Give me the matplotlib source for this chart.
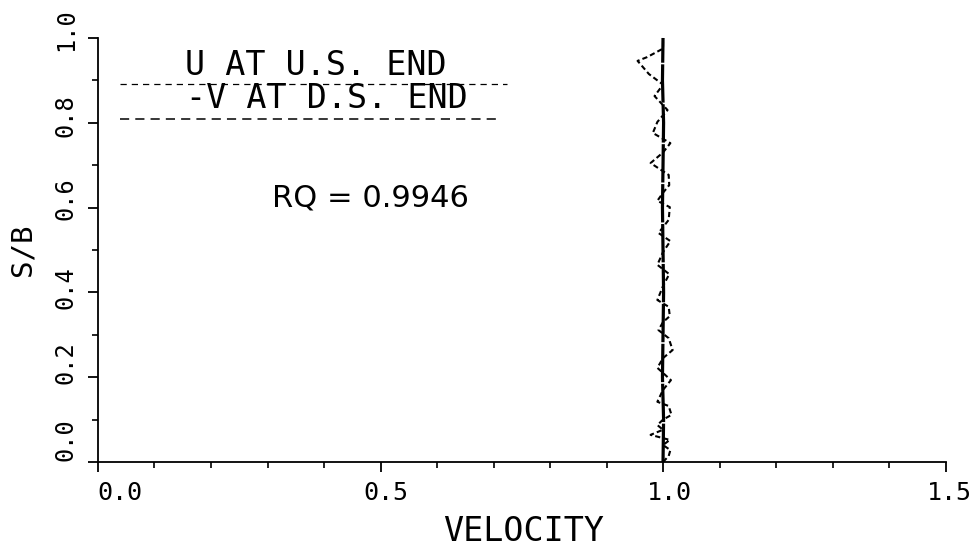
import matplotlib
matplotlib.use('Agg')
import matplotlib.pyplot as plt
from matplotlib.lines import Line2D
from matplotlib.ticker import MultipleLocator

# S/B stations along the section
s_us = [0.0, 0.1, 0.2, 0.3, 0.4, 0.5, 0.6, 0.7, 0.8, 0.9, 1.0]
u_us = [1.000, 1.001, 0.999, 1.000, 1.001, 1.000, 0.999, 1.000, 1.001, 0.999, 1.000]

s_ds = [0.000, 0.014, 0.028, 0.040, 0.052, 0.064, 0.076, 0.087, 0.100, 0.111,
        0.132, 0.142, 0.170, 0.193, 0.222, 0.245, 0.264, 0.292, 0.311, 0.330,
        0.344, 0.366, 0.382, 0.415, 0.443, 0.465, 0.495, 0.521, 0.540, 0.571,
        0.601, 0.616, 0.635, 0.653, 0.677, 0.705, 0.730, 0.752, 0.776, 0.802,
        0.830, 0.863, 0.890, 0.915, 0.946, 0.955, 0.975, 1.000]
v_ds = [1.000, 1.010, 1.013, 1.000, 1.012, 0.978, 1.000, 0.990, 1.000, 1.015,
        1.010, 0.990, 1.000, 1.014, 0.990, 1.000, 1.017, 1.010, 0.992, 1.000,
        1.012, 1.010, 0.990, 1.000, 1.011, 0.990, 1.000, 1.013, 0.992, 1.010,
        1.012, 0.990, 1.000, 1.011, 1.010, 0.978, 1.000, 1.013, 0.982, 0.990,
        1.008, 0.985, 1.000, 0.975, 0.955, 0.972, 1.000, 1.000]

x_ticks = [0.0, 0.5, 1.0, 1.5]
y_ticks = [0.0, 0.2, 0.4, 0.6, 0.8, 1.0]
rq = 0.9946

mono = 'DejaVu Sans Mono'

fig = plt.figure(figsize=(9.77, 5.53), dpi=100)
ax = fig.add_axes([0.1003, 0.1646, 0.8675, 0.7667])

ax.plot(u_us, s_us, color='black', lw=2.3, linestyle=(0, (12, 0.5)), clip_on=False)
ax.plot(v_ds, s_ds, color='black', lw=1.5, linestyle=(0, (2.5, 1.5)), clip_on=False)

ax.set_xlim(0, 1.5)
ax.set_ylim(0, 1)
for side in ['top', 'right']:
    ax.spines[side].set_visible(False)
for side in ['left', 'bottom']:
    ax.spines[side].set_linewidth(1.3)

ax.xaxis.set_major_locator(MultipleLocator(0.5))
ax.xaxis.set_minor_locator(MultipleLocator(0.1))
ax.yaxis.set_major_locator(MultipleLocator(0.2))
ax.yaxis.set_minor_locator(MultipleLocator(0.1))
ax.tick_params(which='major', length=7.5, width=1.3, direction='out',
               labelbottom=False, labelleft=False)
ax.tick_params(which='minor', length=4.5, width=1.2, direction='out')

# tick labels, nudged the way the plotter left them (pixel offsets)
x_dx = [22, 5, 6, 4]
for v, dx in zip(x_ticks, x_dx):
    ax.annotate(f'{v:.1f}', xy=(v, 0), xycoords=('data', 'axes fraction'),
                xytext=(dx * 0.72, -31 * 0.72), textcoords='offset points',
                ha='center', va='center', fontsize=18, family=mono,
                annotation_clip=False)
y_dy = [22, 15, 5, 9, 7, 8]
for v, dy in zip(y_ticks, y_dy):
    ax.annotate(f'{v:.1f}', xy=(0, v), xycoords=('axes fraction', 'data'),
                xytext=(-32 * 0.72, dy * 0.72), textcoords='offset points',
                ha='center', va='center', rotation=90, fontsize=17,
                family=mono, annotation_clip=False)

ax.text(0.5027, -0.165, 'VELOCITY', transform=ax.transAxes, ha='center',
        va='center', fontsize=24, family=mono)
ax.text(-0.0885, 0.5, 'S/B', transform=ax.transAxes, ha='center',
        va='center', rotation=90, fontsize=21, family=mono)

# hand-drawn key
ax.text(0.2572, 0.936, 'U AT U.S. END', transform=ax.transAxes, ha='center',
        va='center', fontsize=24, family=mono)
ax.text(0.2702, 0.857, '-V AT D.S. END', transform=ax.transAxes, ha='center',
        va='center', fontsize=24, family=mono)
ax.add_line(Line2D([0.026, 0.4826], [0.891, 0.891], transform=ax.transAxes,
                   color='black', lw=0.9, linestyle=(0, (5, 4))))
ax.add_line(Line2D([0.026, 0.4708], [0.809, 0.809], transform=ax.transAxes,
                   color='black', lw=1.1, linestyle=(0, (6, 4))))

ax.text(0.321, 0.623, f'RQ = {rq:.4f}', transform=ax.transAxes, ha='center',
        va='center', fontsize=22)

fig.savefig('out.png', dpi=100)
